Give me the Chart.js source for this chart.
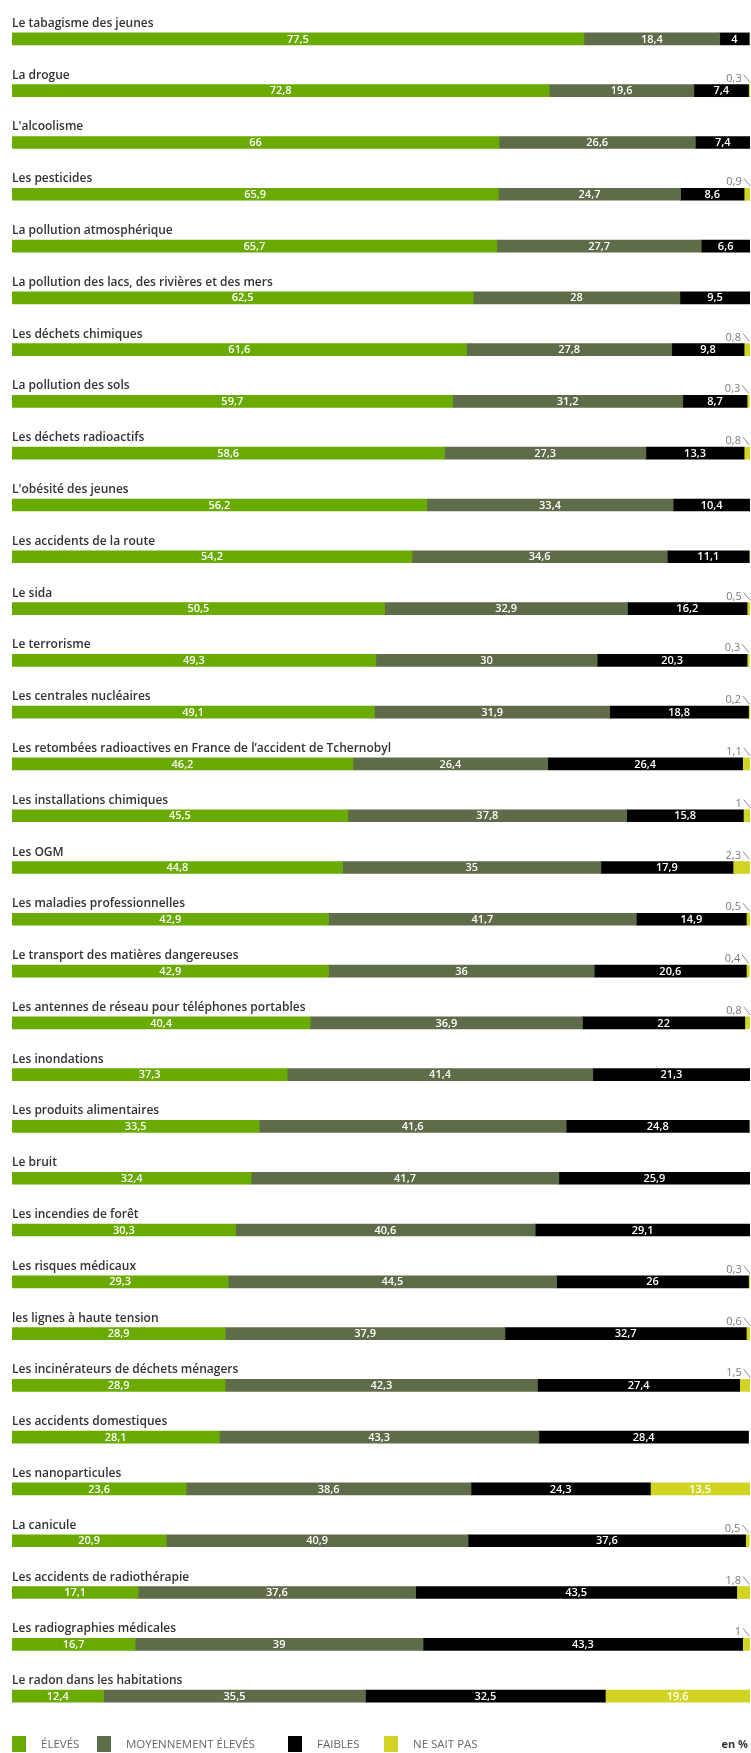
<!DOCTYPE html>
<html><head><meta charset="utf-8">
<script src="https://cdn.jsdelivr.net/npm/chart.js@4.4.1/dist/chart.umd.min.js"></script>
<style>html,body{margin:0;padding:0;background:#fff}#wrap{position:relative;width:751px;height:1753px}</style>
</head><body><div id="wrap"><canvas id="c"></canvas></div>
<script>
const categories = [
  "Le tabagisme des jeunes",
  "La drogue",
  "L'alcoolisme",
  "Les pesticides",
  "La pollution atmosphérique",
  "La pollution des lacs, des rivières et des mers",
  "Les déchets chimiques",
  "La pollution des sols",
  "Les déchets radioactifs",
  "L'obésité des jeunes",
  "Les accidents de la route",
  "Le sida",
  "Le terrorisme",
  "Les centrales nucléaires",
  "Les retombées radioactives en France de l’accident de Tchernobyl",
  "Les installations chimiques",
  "Les OGM",
  "Les maladies professionnelles",
  "Le transport des matières dangereuses",
  "Les antennes de réseau pour téléphones portables",
  "Les inondations",
  "Les produits alimentaires",
  "Le bruit",
  "Les incendies de forêt",
  "Les risques médicaux",
  "les lignes à haute tension",
  "Les incinérateurs de déchets ménagers",
  "Les accidents domestiques",
  "Les nanoparticules",
  "La canicule",
  "Les accidents de radiothérapie",
  "Les radiographies médicales",
  "Le radon dans les habitations"
];
const eleves      = [77.5,72.8,66,65.9,65.7,62.5,61.6,59.7,58.6,56.2,54.2,50.5,49.3,49.1,46.2,45.5,44.8,42.9,42.9,40.4,37.3,33.5,32.4,30.3,29.3,28.9,28.9,28.1,23.6,20.9,17.1,16.7,12.4];
const moyennement = [18.4,19.6,26.6,24.7,27.7,28,27.8,31.2,27.3,33.4,34.6,32.9,30,31.9,26.4,37.8,35,41.7,36,36.9,41.4,41.6,41.7,40.6,44.5,37.9,42.3,43.3,38.6,40.9,37.6,39,35.5];
const faibles     = [4,7.4,7.4,8.6,6.6,9.5,9.8,8.7,13.3,10.4,11.1,16.2,20.3,18.8,26.4,15.8,17.9,14.9,20.6,22,21.3,24.8,25.9,29.1,26,32.7,27.4,28.4,24.3,37.6,43.5,43.3,32.5];
const neSaitPas   = [0,0.3,0,0.9,0,0,0.8,0.3,0.8,0,0,0.5,0.3,0.2,1.1,1,2.3,0.5,0.4,0.8,0,0,0,0,0.3,0.6,1.5,0,13.5,0.5,1.8,1,19.6];
const seriesNames = ["ÉLEVÉS","MOYENNEMENT ÉLEVÉS","FAIBLES","NE SAIT PAS"];
const unitLabel = "en %";

const colors = ["#6aab03","#5e6c49","#000000","#d2d424"];
const fmt = v => String(v).replace('.', ',');

const labelPlugin = {
  id: 'labels',
  afterDatasetsDraw(chart) {
    const ctx = chart.ctx;
    const ys = chart.scales.y;
    const area = chart.chartArea;
    ctx.save();
    // category labels
    categories.forEach((c, i) => {
      const y = ys.getPixelForValue(i);
      const top = y - 6;
      ctx.font = '600 12px "Open Sans"';
      ctx.fillStyle = '#333333';
      ctx.textAlign = 'left';
      ctx.textBaseline = 'alphabetic';
      ctx.fillText(c, area.left, top - 6);
    });
    // values
    chart.data.datasets.forEach((ds, d) => {
      const meta = chart.getDatasetMeta(d);
      meta.data.forEach((bar, i) => {
        const v = ds.data[i];
        if (!v) return;
        const top = bar.y - 6;
        if (v >= 3) {
          ctx.font = '600 11px "Open Sans"';
          ctx.fillStyle = '#ffffff';
          ctx.textAlign = 'center';
          ctx.textBaseline = 'middle';
          ctx.fillText(fmt(v), (bar.x + bar.base) / 2, bar.y + 0.5);
        } else {
          const xe = bar.x;
          ctx.font = '400 11px "Open Sans"';
          ctx.fillStyle = '#7a7a7a';
          ctx.textAlign = 'right';
          ctx.textBaseline = 'alphabetic';
          ctx.fillText(fmt(v), xe - 9, top - 3);
          ctx.strokeStyle = '#8a8a8a';
          ctx.lineWidth = 1;
          ctx.beginPath();
          ctx.moveTo(xe - 7, top - 10);
          ctx.lineTo(xe - 0.5, top - 2);
          ctx.stroke();
        }
      });
    });
    // legend
    const sq = [12, 97, 288, 384];
    const ly = 1744;
    seriesNames.forEach((n, k) => {
      ctx.fillStyle = colors[k];
      ctx.fillRect(sq[k], ly - 8, 14, 16);
      ctx.font = '400 11.5px "Open Sans"';
      ctx.fillStyle = '#666666';
      ctx.textAlign = 'left';
      ctx.textBaseline = 'middle';
      ctx.fillText(n, sq[k] + 29, ly + 1);
    });
    ctx.font = '700 11px "Open Sans"';
    ctx.fillStyle = '#333333';
    ctx.textAlign = 'right';
    ctx.fillText(unitLabel, 748, ly + 1);
    ctx.restore();
  }
};

new Chart(document.getElementById('c'), {
  type: 'bar',
  data: {
    labels: categories,
    datasets: [eleves, moyennement, faibles, neSaitPas].map((arr, k) => ({
      label: seriesNames[k],
      data: arr,
      backgroundColor: colors[k],
      borderWidth: 0,
      barThickness: 12,
      categoryPercentage: 1
    }))
  },
  options: {
    indexAxis: 'y',
    responsive: true,
    maintainAspectRatio: false,
    animation: false,
    layout: { padding: { left: 12, right: 1, top: 13, bottom: 31 } },
    scales: {
      x: { stacked: true, min: 0, max: 100, display: false },
      y: { stacked: true, display: false }
    },
    plugins: { legend: { display: false }, tooltip: { enabled: false } }
  },
  plugins: [labelPlugin]
});
</script></body></html>
